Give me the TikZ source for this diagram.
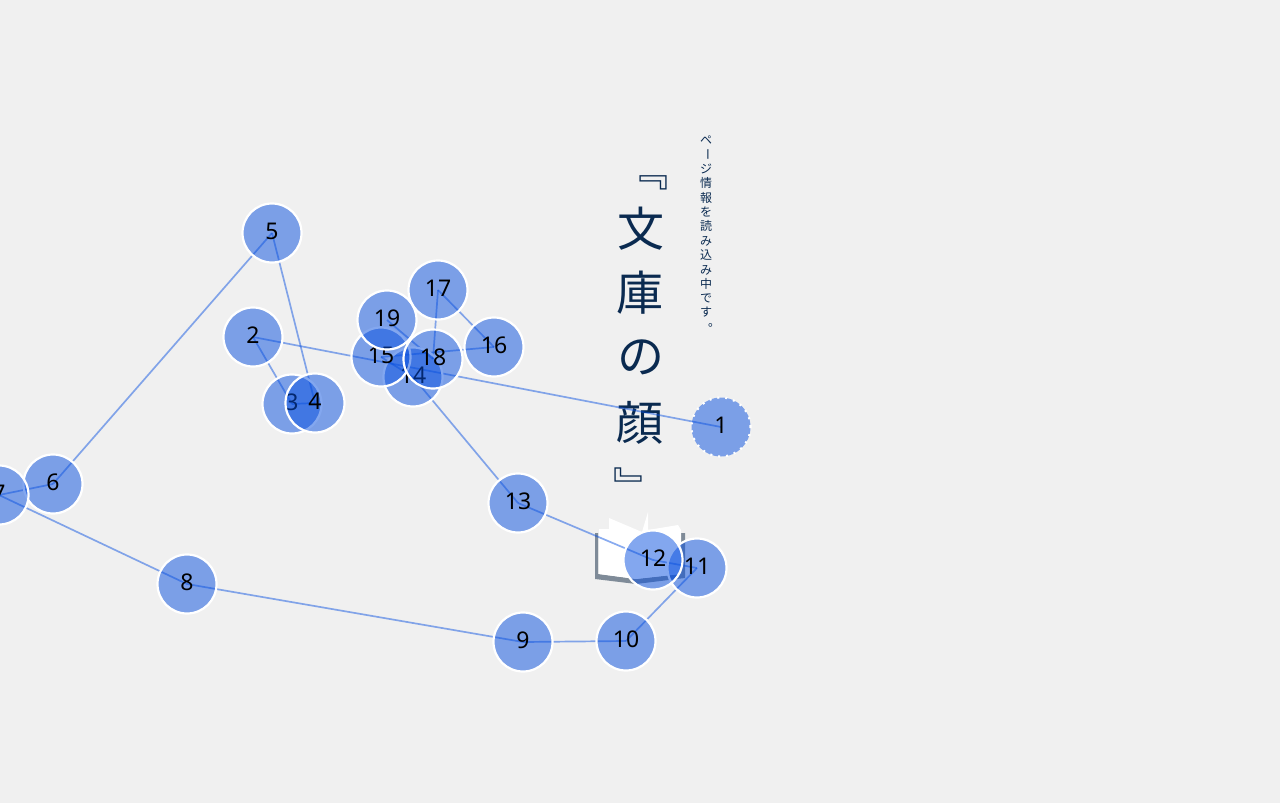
\documentclass[tikz,border=0pt]{standalone}
\usepackage{fontspec}
\setsansfont{Noto Sans}
\newfontfamily\jpfont{Noto Sans CJK JP}
\usetikzlibrary{positioning}
\definecolor{pagegray}{HTML}{F0F0F0}
\definecolor{dotblue}{HTML}{0850E0}
\definecolor{inknavy}{HTML}{0A2A50}
\definecolor{bookgray}{HTML}{7F8B98}
\pgfdeclarelayer{back}
\pgfdeclarelayer{edges}
\pgfsetlayers{back,edges,main}
\tikzset{
    mynode/.style = {circle, draw=white, line width=2.2pt, fill=dotblue, fill opacity=0.5, draw opacity=1, text opacity=1, minimum size=59pt, inner sep=0pt, text height=17pt, text depth=4pt, text=black, font=\sffamily\fontsize{23}{23}\selectfont},
    mynoded/.style = {mynode, dash pattern=on 2pt off 6pt},
    edgen/.style = {draw=dotblue, draw opacity=0.48, line width=1.7pt},
    titlech/.style = {text=inknavy, inner sep=0pt, font=\jpfont\fontsize{47}{47}\selectfont},
    titleqt/.style = {text=inknavy, inner sep=0pt, font=\jpfont\fontsize{41}{41}\selectfont},
    smallch/.style = {text=inknavy, inner sep=0pt, font=\jpfont\fontsize{12}{12}\selectfont}
}
\begin{document}
\begin{tikzpicture}[x=1pt,y=-1pt]
  \useasboundingbox (0,0) rectangle (1280,803);
  \begin{pgfonlayer}{back}
    \fill[pagegray] (0,0) rectangle (1280,803);
    % book
    \fill[bookgray] (595,533) -- (598,533) -- (598,574) -- (636,579) -- (681,574) -- (681,533) -- (685,533) -- (685,578) -- (636,584) -- (595,579) -- cycle;
    \fill[white] (599,529) -- (609,529) -- (609,518) -- (642,532) -- (648,512) -- (648,530) -- (678,525) -- (681,530) -- (681,574) -- (636,579) -- (599,574) -- cycle;
    % title
    \node[titleqt] (tq1) at (648,183) {﹃};
    \node[titlech] (t1) at (641,229) {文};
    \node[titlech] (t2) at (640,293) {庫};
    \node[titlech] (t3) at (641,357) {の};
    \node[titlech] (t4) at (640,423) {顔};
    \node[titleqt] (tq2) at (634,485) {﹄};
    % loading text
    \node[smallch] (s1) at (706,140) {ペ};
    \node[smallch,rotate=-90] (s2) at (706,154) {ー};
    \node[smallch] (s3) at (706,169) {ジ};
    \node[smallch] (s4) at (706,183) {情};
    \node[smallch] (s5) at (706,198) {報};
    \node[smallch] (s6) at (706,212) {を};
    \node[smallch] (s7) at (706,226) {読};
    \node[smallch] (s8) at (706,241) {み};
    \node[smallch] (s9) at (706,255) {込};
    \node[smallch] (s10) at (706,270) {み};
    \node[smallch] (s11) at (706,284) {中};
    \node[smallch] (s12) at (706,298) {で};
    \node[smallch] (s13) at (706,312) {す};
    \node[smallch] (s14) at (714,325) {。};
  \end{pgfonlayer}

  \node[mynoded] (n1) at (721,427) {1};
  \node[mynode] (n2) at (253,337) {2};
  \node[mynode] (n3) at (292,404) {3};
  \node[mynode] (n4) at (315,403) {4};
  \node[mynode] (n5) at (272,233) {5};
  \node[mynode] (n6) at (53,484) {6};
  \node[mynode] (n7) at (-1,495) {7};
  \node[mynode] (n8) at (187,584) {8};
  \node[mynode] (n9) at (523,642) {9};
  \node[mynode] (n10) at (626,641) {10};
  \node[mynode] (n11) at (697,568) {11};
  \node[mynode] (n12) at (653,560) {12};
  \node[mynode] (n13) at (518,503) {13};
  \node[mynode] (n14) at (413,377) {14};
  \node[mynode] (n15) at (381,357) {15};
  \node[mynode] (n16) at (494,347) {16};
  \node[mynode] (n17) at (438,290) {17};
  \node[mynode] (n18) at (433,359) {18};
  \node[mynode] (n19) at (387,320) {19};

  \begin{pgfonlayer}{edges}
    \draw[edgen] (n1.center) -- (n2.center);
    \draw[edgen] (n2.center) -- (n3.center);
    \draw[edgen] (n3.center) -- (n4.center);
    \draw[edgen] (n4.center) -- (n5.center);
    \draw[edgen] (n5.center) -- (n6.center);
    \draw[edgen] (n6.center) -- (n7.center);
    \draw[edgen] (n7.center) -- (n8.center);
    \draw[edgen] (n8.center) -- (n9.center);
    \draw[edgen] (n9.center) -- (n10.center);
    \draw[edgen] (n10.center) -- (n11.center);
    \draw[edgen] (n11.center) -- (n12.center);
    \draw[edgen] (n12.center) -- (n13.center);
    \draw[edgen] (n13.center) -- (n14.center);
    \draw[edgen] (n14.center) -- (n15.center);
    \draw[edgen] (n15.center) -- (n16.center);
    \draw[edgen] (n16.center) -- (n17.center);
    \draw[edgen] (n17.center) -- (n18.center);
    \draw[edgen] (n18.center) -- (n19.center);
  \end{pgfonlayer}
\end{tikzpicture}
\end{document}
